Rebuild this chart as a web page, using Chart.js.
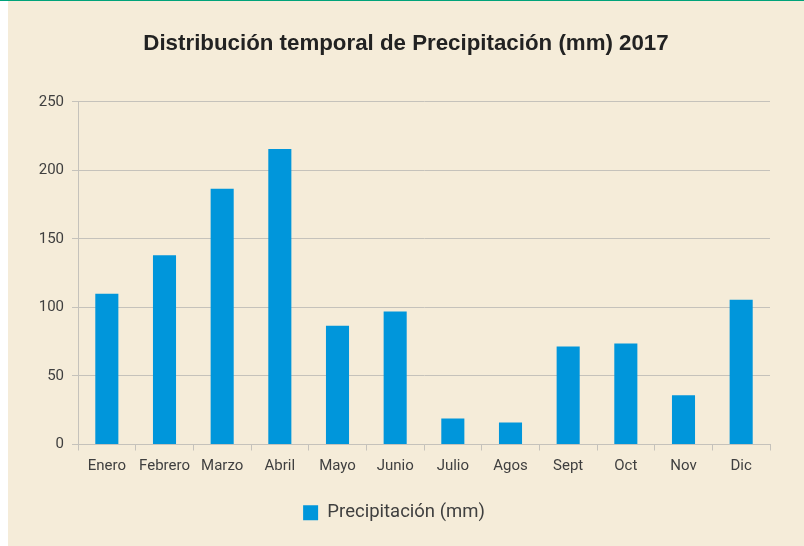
<!DOCTYPE html>
<html>
<head>
<meta charset="utf-8">
<script src="https://cdn.jsdelivr.net/npm/chart.js@4/dist/chart.umd.min.js"></script>
<style>
  html, body { margin: 0; padding: 0; background: #ffffff; }
  #topLine { position: absolute; left: 0; top: 0; width: 804px; height: 1px; background: #00a37a; }
  #panel { position: absolute; left: 8px; top: 1px; width: 796px; height: 545px; background: #f5ecd9; }
</style>
</head>
<body>
<div id="topLine"></div>
<div id="panel"><canvas id="chart" width="796" height="545"></canvas></div>
<script>
const months = ["Enero", "Febrero", "Marzo", "Abril", "Mayo", "Junio", "Julio", "Agos", "Sept", "Oct", "Nov", "Dic"];
const precipitation = [110, 138, 186.5, 215.5, 86.7, 97, 19, 16, 71.5, 73.7, 36, 105.5];
const seriesName = "Precipitación (mm)";
const titleText = "Distribución temporal de Precipitación (mm) 2017";
const yMin = 0, yMax = 250, yStep = 50;

const labelFont = "Roboto, 'Liberation Sans', Arial, sans-serif";
const textColor = "#3f3f3f";
const gridColor = "#c5c2bb";

// center title and legend on the whole panel, not on the padded area
const recenter = {
  id: "recenter",
  afterLayout(chart) {
    const t = chart.titleBlock;
    t.left = 0; t.right = chart.width; t.width = chart.width;
    const l = chart.legend;
    l.left = 0; l.right = 772; l.width = 772;
  }
};

new Chart(document.getElementById("chart"), {
  type: "bar",
  data: {
    labels: months,
    datasets: [{
      label: seriesName,
      data: precipitation,
      backgroundColor: "#0096db",
      borderWidth: 0,
      barPercentage: 0.8,
      categoryPercentage: 0.5
    }]
  },
  options: {
    responsive: false,
    animation: false,
    layout: { padding: { left: 0, right: 34, top: 0, bottom: 14 } },
    plugins: {
      title: {
        display: true,
        text: titleText,
        color: "#222222",
        font: { family: "'Liberation Sans', Arial, sans-serif", size: 22.3, weight: "bold", lineHeight: 1.2 },
        padding: { top: 29, bottom: 45 }
      },
      legend: {
        position: "bottom",
        labels: {
          color: textColor,
          font: { family: labelFont, size: 18.5 },
          boxWidth: 15,
          boxHeight: 15,
          padding: 12
        }
      },
      tooltip: { enabled: false }
    },
    scales: {
      x: {
        grid: {
          offset: true,
          drawOnChartArea: false,
          drawTicks: true,
          tickLength: 6,
          color: gridColor
        },
        border: { color: gridColor, width: 1 },
        ticks: { color: textColor, font: { family: labelFont, size: 15 }, padding: 7, maxRotation: 0, autoSkip: false },
        afterFit: (scale) => { scale.height = 47; }
      },
      y: {
        min: yMin,
        max: yMax,
        grid: { color: gridColor, tickLength: 6, drawTicks: true },
        border: { color: gridColor, width: 1 },
        ticks: { stepSize: yStep, color: textColor, font: { family: labelFont, size: 15 }, padding: 8 },
        afterFit: (scale) => { scale.width = 70; }
      }
    }
  },
  plugins: [recenter]
});
</script>
</body>
</html>
